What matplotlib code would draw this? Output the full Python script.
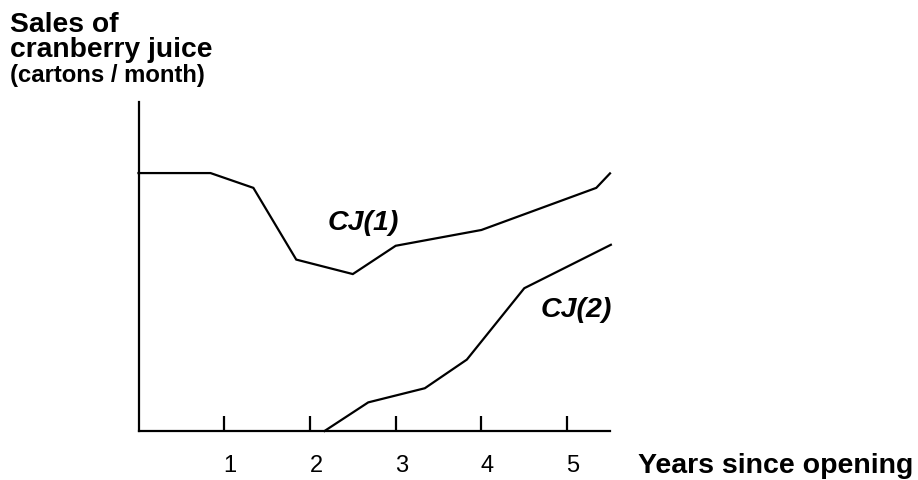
import matplotlib
matplotlib.use("Agg")
import matplotlib.pyplot as plt
import matplotlib.transforms as mtransforms

plt.rcParams['font.family'] = ['Liberation Sans', 'DejaVu Sans']

# Data (years since opening, relative sales 0-100)
cj1_years = [0, 0.84, 1.34, 1.84, 2.5, 3.0, 4.0, 5.34, 5.5]
cj1_sales = [78.4, 78.4, 73.9, 52.1, 47.7, 56.3, 61.1, 73.9, 78.3]

cj2_years = [2.17, 2.68, 3.34, 3.83, 4.50, 5.51]
cj2_sales = [0, 8.7, 13.0, 21.7, 43.4, 56.6]

tick_years = [1, 2, 3, 4, 5]
tick_labels = ['1', '2', '3', '4', '5']

W, H = 918, 481
fig = plt.figure(figsize=(W / 100, H / 100), dpi=100)
x0, x1, y0, y1 = 138.5, 610, 432, 103
ax = fig.add_axes([x0 / W, (H - y0) / H, (x1 - x0) / W, (y0 - y1) / H])

ax.plot(cj1_years, cj1_sales, color='black', lw=1.6, solid_joinstyle='miter', clip_on=False)
ax.plot(cj2_years, cj2_sales, color='black', lw=1.6, solid_joinstyle='miter', clip_on=False)

ax.set_xlim(0, 5.5)
ax.set_ylim(0, 100)
for s in ['top', 'right']:
    ax.spines[s].set_visible(False)
for s in ['left', 'bottom']:
    ax.spines[s].set_linewidth(1.6)

ax.set_yticks([])
ax.set_xticks(tick_years)
ax.set_xticklabels([])
ax.tick_params(axis='x', direction='in', length=11, width=1.6)

# tick labels, slightly right of the ticks
off = mtransforms.ScaledTranslation(6 / 100, -34 / 100, fig.dpi_scale_trans)
for t, lab in zip(tick_years, tick_labels):
    ax.text(t, 0, lab, transform=ax.get_xaxis_transform() + off,
            ha='center', va='center', fontsize=17)

ax.text(2.62, 63.5, 'CJ(1)', fontsize=20.5, fontweight='bold', fontstyle='italic',
        ha='center', va='center')
ax.text(5.11, 37.2, 'CJ(2)', fontsize=20.5, fontweight='bold', fontstyle='italic',
        ha='center', va='center')

fig.text(638 / W, 1 - 466 / H, 'Years since opening', fontsize=20.5,
         fontweight='bold', ha='left', va='center')

fig.text(10 / W, 1 - 32 / H, 'Sales of', fontsize=20.3, fontweight='bold',
         ha='left', va='baseline')
fig.text(10 / W, 1 - 57 / H, 'cranberry juice', fontsize=20.3, fontweight='bold',
         ha='left', va='baseline')
fig.text(10 / W, 1 - 82 / H, '(cartons / month)', fontsize=17.2, fontweight='bold',
         ha='left', va='baseline')

fig.savefig('out.png', dpi=100)
